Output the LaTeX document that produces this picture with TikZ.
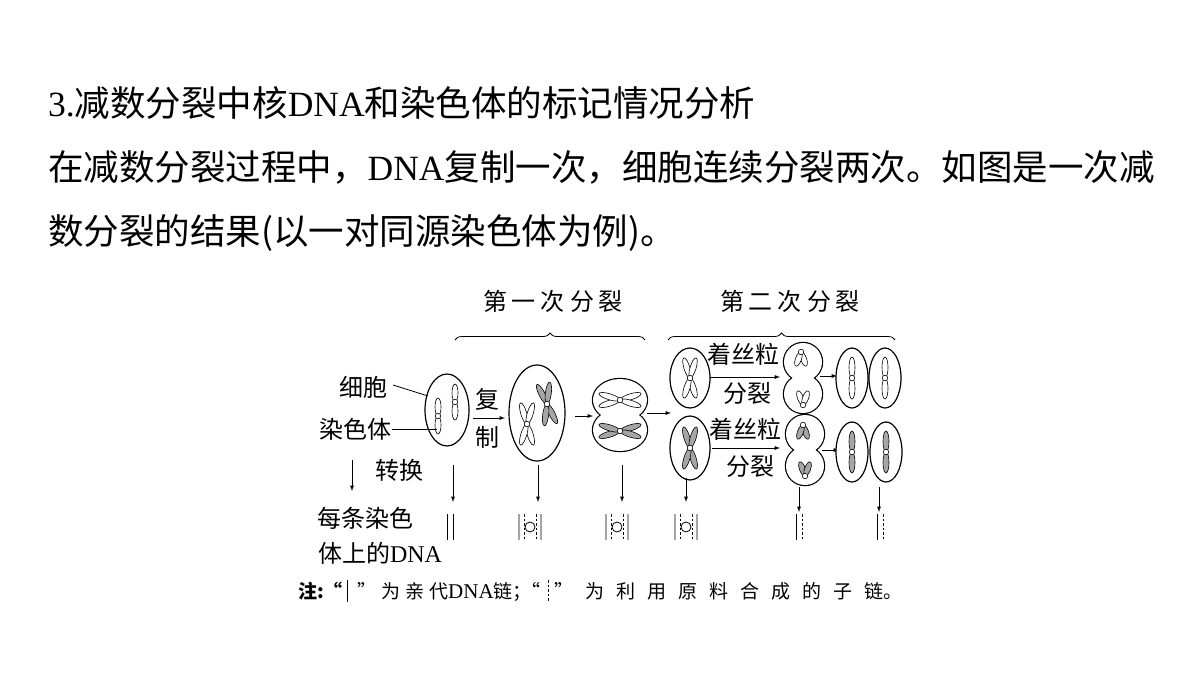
\documentclass[tikz,border=0pt]{standalone}
\usepackage{fontspec}
\setmainfont{Noto Sans CJK SC}
\newfontfamily\lat{Liberation Serif}
\usetikzlibrary{decorations.pathreplacing}
\tikzset{
  lbl/.style={font=\fontsize{24}{27}\selectfont, inner sep=0pt},
  ttl/.style={font=\fontsize{35.5}{40}\selectfont, anchor=base west, inner sep=0pt},
  note/.style={font=\fontsize{19}{22}\selectfont, anchor=base west, inner sep=0pt},
  arr/.style={-latex, line width=0.9pt},
  cell/.style={draw, line width=1.2pt, fill=white},
}
% one arm of a chromosome: x, y, angle, length, fill
\newcommand{\petal}[5]{\begin{scope}[shift={(#1,#2)},rotate=#3]
  \draw[fill=#5, line width=0.6pt] (#4/2,0) ellipse ({#4/2} and 3);\end{scope}}
\newcommand{\cen}[2]{\draw[fill=white, line width=0.6pt] (#1,#2) circle (2.8);}
% X shaped chromosome: x, y, axis angle, length, fill
\newcommand{\chrX}[5]{\petal{#1}{#2}{#3+17}{#4}{#5}\petal{#1}{#2}{#3-17}{#4}{#5}
  \petal{#1}{#2}{#3+197}{#4}{#5}\petal{#1}{#2}{#3+163}{#4}{#5}\cen{#1}{#2}}
% single rod
\newcommand{\rod}[4]{\petal{#1}{#2}{90}{#3}{#4}\petal{#1}{#2}{270}{#3}{#4}\cen{#1}{#2}}
% V shape: x, y, direction, fill
\newcommand{\chrV}[4]{\petal{#1}{#2}{#3+20}{15}{#4}\petal{#1}{#2}{#3-20}{15}{#4}\cen{#1}{#2}}
% pinched cell: x, y, half width, offset, lobe radius
\newcommand{\dumb}[5]{\draw[line width=2.4pt] (#1,#2-#4) ellipse ({#3} and {#5}) (#1,#2+#4) ellipse ({#3} and {#5});
  \fill[white] (#1,#2-#4) ellipse ({#3} and {#5}) (#1,#2+#4) ellipse ({#3} and {#5});}
% DNA marks
\newcommand{\dnaA}[1]{\draw[line width=0.8pt] (#1-3,514)--(#1-3,540) (#1+3,514)--(#1+3,540);}
\newcommand{\dnaB}[1]{\draw[line width=0.8pt] (#1-11,514)--(#1-11,540) (#1+11,514)--(#1+11,540) (#1,527) circle (5);
  \draw[line width=0.8pt, dash pattern=on 2.5pt off 2pt] (#1-6,514)--(#1-6,540) (#1+6,514)--(#1+6,540);}
\newcommand{\dnaC}[1]{\draw[line width=0.8pt] (#1-3,514)--(#1-3,540);
  \draw[line width=0.8pt, dash pattern=on 2.5pt off 2pt] (#1+3,514)--(#1+3,540);}
\newcommand{\gapA}{\hspace{5pt}}
\newcommand{\gapB}{\hspace{12pt}}

\begin{document}
\begin{tikzpicture}[x=1pt, y=-1pt]
\useasboundingbox[fill=white] (0,0) rectangle (1200,675);

% heading text
\node[ttl] (t1) at (48,116) {{\lat 3.}减数分裂中核{\lat DNA}和染色体的标记情况分析};
\node[ttl] (t2) at (48,180) {在减数分裂过程中，{\lat DNA}复制一次，细胞连续分裂两次。如图是一次减};
\node[ttl] (t3) at (48,244) {数分裂的结果(以一对同源染色体为例)。};

% braces
\draw[decorate, decoration={brace, amplitude=7pt}, line width=0.8pt] (455,340) -- (645,340);
\draw[decorate, decoration={brace, amplitude=7pt}, line width=0.8pt] (668,340) -- (895,340);
\node[lbl] (d1) at (553,301) {第\gapA 一\gapA 次\gapA 分\gapA 裂};
\node[lbl] (d2) at (790,301) {第\gapA 二\gapA 次\gapA 分\gapA 裂};

% first cell
\draw[cell] (447,410) ellipse (22 and 36);
\rod{438}{416}{18}{white}\rod{455}{402}{18}{white}
\node[lbl] (cb) at (363,387) {细胞};
\node[lbl] (rs) at (355,429) {染色体};
\draw[line width=0.8pt] (393,385) -- (428,396);
\draw[line width=0.8pt] (392,429) -- (437,429);
\draw[arr] (473,418) -- (505,418);
\node[lbl] (fu) at (487,399) {复};
\node[lbl] (zh) at (487,437) {制};

% replicated cell
\draw[cell] (537,413) ellipse (28 and 48);
\chrX{527}{424}{90}{22}{white}
\chrX{547}{404}{100}{22}{gray!70}
\draw[arr] (575,416) -- (593,416);

% cell in first division
\dumb{620}{415}{27}{15}{21}
\chrX{620}{400}{0}{22}{white}
\chrX{620}{431}{0}{22}{gray!70}
\draw[arr] (647,413) -- (671,413);

% second division, top row
\draw[cell] (690,378) ellipse (20 and 30);
\chrX{690}{378}{90}{21}{white}
\draw[arr] (710,377) -- (780,377);
\node[lbl] (z1) at (743,354) {着丝粒};
\node[lbl] (f1) at (747,393) {分裂};
\dumb{803}{378}{19}{16}{19}
\chrV{801}{352}{270}{white}\chrV{803}{405}{90}{white}
\draw[arr] (820,376) -- (837,376);
\draw[cell] (852,378) ellipse (16 and 30);
\rod{852}{378}{21}{white}
\draw[cell] (885,378) ellipse (16 and 30);
\rod{885}{378}{21}{white}

% second division, bottom row
\draw[cell] (690,448) ellipse (20 and 32);
\chrX{690}{448}{90}{22}{gray!70}
\draw[arr] (712,448) -- (780,448);
\node[lbl] (z2) at (745,429) {着丝粒};
\node[lbl] (f2) at (750,466) {分裂};
\dumb{805}{450}{19}{16}{19}
\chrV{803}{425}{270}{gray!70}\chrV{805}{476}{90}{gray!70}
\draw[arr] (822,450) -- (839,450);
\draw[cell] (852,452) ellipse (16 and 30);
\rod{852}{452}{21}{gray!70}
\draw[cell] (886,452) ellipse (16 and 30);
\rod{886}{452}{21}{gray!70}

% down arrows
\draw[arr] (352,460) -- (352,491);
\node[lbl] (zhh) at (399,470) {转换};
\foreach \x in {453,538,622} \draw[arr] (\x,465) -- (\x,502);
\draw[arr] (686,478) -- (686,502);
\foreach \x in {799,879} \draw[arr] (\x,487) -- (\x,512);

% DNA of each chromosome
\node[lbl] (m1) at (365,518) {每条染色};
\node[lbl] (m2) at (380,553) {体上的{\lat DNA}};
\dnaA{450}
\dnaB{530}\dnaB{617}\dnaB{686}
\dnaC{799}\dnaC{880}

% note
\node[note, font=\fontsize{19}{22}\selectfont\bfseries] (n0) at (298,598) {注:“};
\draw[line width=0.8pt] (347,580) -- (347,602);
\node[note] (n1) at (357,598) {”\gapA 为\gapA 亲\gapA 代{\lat\fontsize{21}{22}\selectfont DNA}链；};
\node[note, anchor=base east] (n1b) at (541,598) {“};
\draw[line width=0.8pt, dash pattern=on 2.5pt off 2pt] (548,580) -- (548,602);
\node[note] (n2) at (554,598) {”\gapB 为\gapB 利\gapB 用\gapB 原\gapB 料\gapB 合\gapB 成\gapB 的\gapB 子\gapB 链。};
\end{tikzpicture}
\end{document}
